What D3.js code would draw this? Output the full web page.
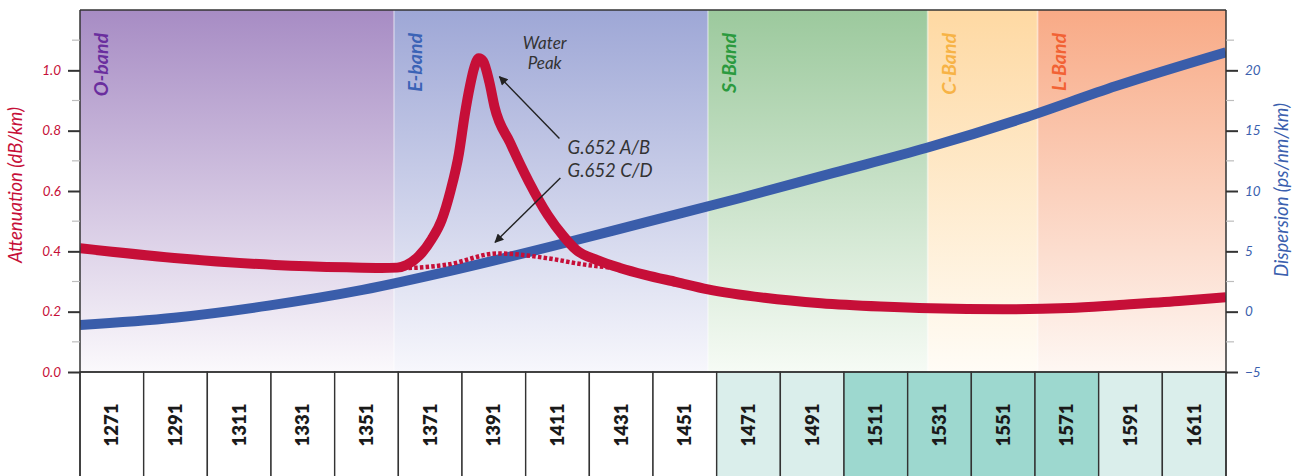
<!DOCTYPE html>
<html>
<head>
<meta charset="utf-8">
<script src="https://cdn.jsdelivr.net/npm/d3@7"></script>
<style>
  html, body { margin: 0; padding: 0; background: #ffffff; }
  svg { display: block; font-family: Lato, "Open Sans", sans-serif; }
</style>
</head>
<body>
<svg id="chart" width="1303" height="476"></svg>
<script>
// ---------------- DATA ----------------
const channels = [1271, 1291, 1311, 1331, 1351, 1371, 1391, 1411, 1431, 1451,
                  1471, 1491, 1511, 1531, 1551, 1571, 1591, 1611];
const coreChannels = [1511, 1531, 1551, 1571];
const extendedChannels = [1471, 1491, 1591, 1611];

const bandNames  = ["O-band", "E-band", "S-Band", "C-Band", "L-Band"];
const bandStarts = [1260, 1360, 1460, 1530, 1565];
const bandEnds   = [1360, 1460, 1530, 1565, 1625];

// Attenuation G.652 A/B (dB/km), with water peak
const attWl = [1260, 1290, 1322, 1345, 1356, 1361, 1364, 1368, 1372, 1375.2, 1378, 1380.7,
               1382.5, 1384.2, 1385.6, 1387, 1388.4, 1390.4, 1392, 1397, 1403, 1409,
               1414, 1418, 1425, 1432, 1440, 1450, 1460, 1478, 1496, 1515, 1531, 1554,
               1575, 1591, 1610, 1625];
const attAB = [0.41, 0.378, 0.355, 0.347, 0.345, 0.346, 0.355, 0.385, 0.44, 0.504, 0.6, 0.725,
               0.85, 0.948, 1.01, 1.04, 1.03, 0.96, 0.88, 0.76, 0.63, 0.52,
               0.45, 0.405, 0.37, 0.345, 0.322, 0.298, 0.274, 0.246, 0.228, 0.217, 0.211, 0.208,
               0.212, 0.222, 0.235, 0.248];

// Attenuation G.652 C/D (low water peak), dotted part
const cdWl = [1361, 1364, 1377, 1393, 1409, 1420, 1430];
const attCD = [0.345, 0.345, 0.356, 0.393, 0.377, 0.357, 0.345];

// Dispersion (ps/nm/km)
const dispWl = [1260, 1290, 1320, 1350, 1380, 1410, 1440, 1470, 1500, 1530, 1560, 1590, 1625];
const dispersion = [-1.1, -0.5, 0.5, 1.8, 3.5, 5.4, 7.4, 9.4, 11.5, 13.6, 16.0, 18.7, 21.5];

const leftTicks  = [0.0, 0.2, 0.4, 0.6, 0.8, 1.0];
const rightTicks = [-5, 0, 5, 10, 15, 20];

// Annotations (data units: wavelength, attenuation)
const waterPeakLabels = [{ text: "Water", wl: 1408, att: 1.07 }, { text: "Peak", wl: 1408, att: 1.005 }];
const fiberLabels = [{ text: "G.652 A/B", wl: 1415.3, att: 0.724 }, { text: "G.652 C/D", wl: 1415.3, att: 0.647 }];
const arrowAB = { from: [1412.7, 0.774], to: [1393.6, 0.979] };
const arrowCD = { from: [1413.0, 0.643], to: [1392.2, 0.43] };

// ---------------- LAYOUT ----------------
const svg = d3.select("#chart");
const L = 80, R = 1226, T = 10, B = 372, BOTTOM = 476;

const x  = d3.scaleLinear().domain([1260, 1625]).range([L, R]);
const yL = d3.scaleLinear().domain([0, 1.2]).range([B, T]);
const yR = d3.scaleLinear().domain([-5, 25]).range([B, T]);
const xc = d3.scaleBand().domain(channels).range([L, R]);

const bandTop    = ["#a78cc4", "#9ea7d6", "#9cc99d", "#fed9a3", "#f8aa86"];
const bandBottom = ["#fbf9fc", "#f7f7fc", "#f6fbf5", "#fffcf6", "#fef7f3"];
const bandText   = ["#6a2e9e", "#3b63b6", "#2b9a3e", "#f7b346", "#f26234"];

const defs = svg.append("defs");
bandNames.forEach((n, i) => {
  const g = defs.append("linearGradient").attr("id", "bg" + i)
    .attr("x1", 0).attr("y1", 0).attr("x2", 0).attr("y2", 1);
  g.append("stop").attr("offset", "0%").attr("stop-color", bandTop[i]);
  g.append("stop").attr("offset", "100%").attr("stop-color", bandBottom[i]);
});
defs.append("clipPath").attr("id", "plotclip")
  .append("rect").attr("x", L).attr("y", T).attr("width", R - L).attr("height", B - T);
const marker = defs.append("marker").attr("id", "arrowhead")
  .attr("viewBox", "0 0 10 10").attr("refX", 9).attr("refY", 5)
  .attr("markerWidth", 13).attr("markerHeight", 9).attr("markerUnits", "userSpaceOnUse")
  .attr("orient", "auto");
marker.append("path").attr("d", "M0,0 L10,5 L0,10 z").attr("fill", "#222");

// band backgrounds
const bands = bandNames.map((n, i) => ({ name: n, s: bandStarts[i], e: bandEnds[i], i }));
svg.append("g").selectAll("rect").data(bands).join("rect")
  .attr("x", d => x(d.s)).attr("y", T)
  .attr("width", d => x(d.e) - x(d.s)).attr("height", B - T)
  .attr("fill", d => `url(#bg${d.i})`);
// light separators between bands
svg.append("g").selectAll("line").data(bandStarts.slice(1)).join("line")
  .attr("x1", d => x(d)).attr("x2", d => x(d)).attr("y1", T).attr("y2", B)
  .attr("stroke", "#ffffff").attr("stroke-opacity", 0.35).attr("stroke-width", 2);

// band labels
svg.append("g").selectAll("text").data(bands).join("text")
  .attr("transform", d => `translate(${x(d.s) + 28},${T + 23}) rotate(-90)`)
  .attr("text-anchor", "end")
  .attr("font-size", 19.5).attr("font-weight", 700).attr("font-style", "italic")
  .attr("fill", d => bandText[d.i])
  .text(d => d.name);

// channel boxes
const boxes = svg.append("g");
boxes.selectAll("rect").data(channels).join("rect")
  .attr("x", d => xc(d)).attr("y", B)
  .attr("width", xc.bandwidth()).attr("height", BOTTOM - B + 5)
  .attr("fill", d => coreChannels.includes(d) ? "#9dd8cf" : (extendedChannels.includes(d) ? "#daeeeb" : "#ffffff"))
  .attr("stroke", "#333").attr("stroke-width", 1.4);
boxes.selectAll("text").data(channels).join("text")
  .attr("transform", d => `translate(${xc(d) + xc.bandwidth() / 2 + 6.5},${B + 53}) rotate(-90)`)
  .attr("text-anchor", "middle")
  .attr("font-size", 18.5).attr("font-weight", 800).attr("fill", "#1a1a1a")
  .text(d => d);

// curves
const plot = svg.append("g").attr("clip-path", "url(#plotclip)");
const lineAtt = d3.line().x(d => x(d[0])).y(d => yL(d[1])).curve(d3.curveMonotoneX);
const lineDisp = d3.line().x(d => x(d[0])).y(d => yR(d[1])).curve(d3.curveMonotoneX);

plot.append("path").datum(dispWl.map((w, i) => [w, dispersion[i]]))
  .attr("d", lineDisp).attr("fill", "none").attr("stroke", "#3a5daa").attr("stroke-width", 10);

plot.append("path").datum(cdWl.map((w, i) => [w, attCD[i]]))
  .attr("d", lineAtt).attr("fill", "none").attr("stroke", "#c60f38")
  .attr("stroke-width", 4.5).attr("stroke-dasharray", "3.5,2.2");

plot.append("path").datum(attWl.map((w, i) => [w, attAB[i]]))
  .attr("d", lineAtt).attr("fill", "none").attr("stroke", "#c60f38").attr("stroke-width", 10)
  .attr("stroke-linejoin", "round");

// annotations
const ann = svg.append("g").attr("font-style", "italic").attr("fill", "#333");
ann.selectAll("text.wp").data(waterPeakLabels).join("text").attr("class", "wp")
  .attr("x", d => x(d.wl)).attr("y", d => yL(d.att))
  .attr("text-anchor", "middle").attr("font-size", 17).text(d => d.text);
ann.selectAll("text.fl").data(fiberLabels).join("text").attr("class", "fl")
  .attr("x", d => x(d.wl)).attr("y", d => yL(d.att)).attr("font-size", 18.5).text(d => d.text);
[arrowAB, arrowCD].forEach(a => {
  svg.append("line")
    .attr("x1", x(a.from[0])).attr("y1", yL(a.from[1]))
    .attr("x2", x(a.to[0])).attr("y2", yL(a.to[1]))
    .attr("stroke", "#222").attr("stroke-width", 1.4).attr("marker-end", "url(#arrowhead)");
});

// frame
svg.append("line").attr("x1", L).attr("x2", R).attr("y1", T).attr("y2", T).attr("stroke", "#333").attr("stroke-width", 1.5);
svg.append("line").attr("x1", L).attr("x2", L).attr("y1", T).attr("y2", BOTTOM).attr("stroke", "#333").attr("stroke-width", 1.5);
svg.append("line").attr("x1", R).attr("x2", R).attr("y1", T).attr("y2", BOTTOM).attr("stroke", "#333").attr("stroke-width", 1.5);
svg.append("line").attr("x1", L).attr("x2", R).attr("y1", B).attr("y2", B).attr("stroke", "#333").attr("stroke-width", 1.5);

// left axis
const minorL = d3.range(1, 12, 2).map(v => v / 10);
svg.append("g").selectAll("line").data(minorL).join("line")
  .attr("x1", L - 8).attr("x2", L).attr("y1", d => yL(d)).attr("y2", d => yL(d))
  .attr("stroke", "#bdbdbd").attr("stroke-width", 1.2);
const axL = svg.append("g").attr("transform", `translate(${L},0)`)
  .call(d3.axisLeft(yL).tickValues(leftTicks).tickFormat(d3.format(".1f")).tickSize(12).tickPadding(7));
axL.select(".domain").remove();
axL.selectAll(".tick line").attr("stroke", "#333").attr("stroke-width", 2);
axL.selectAll(".tick text").attr("fill", "#c60f38").attr("font-size", 13.5).attr("font-style", "italic")
  .attr("font-family", "Lato, sans-serif");

// right axis
const minorR = d3.range(-2.5, 25, 5);
svg.append("g").selectAll("line").data(minorR).join("line")
  .attr("x1", R).attr("x2", R + 8).attr("y1", d => yR(d)).attr("y2", d => yR(d))
  .attr("stroke", "#bdbdbd").attr("stroke-width", 1.2);
const axR = svg.append("g").attr("transform", `translate(${R},0)`)
  .call(d3.axisRight(yR).tickValues(rightTicks).tickSize(12).tickPadding(7));
axR.select(".domain").remove();
axR.selectAll(".tick line").attr("stroke", "#333").attr("stroke-width", 2);
axR.selectAll(".tick text").attr("fill", "#3b5fae").attr("font-size", 13.5).attr("font-style", "italic")
  .attr("font-family", "Lato, sans-serif");

// axis titles
svg.append("text").attr("transform", `translate(22,${(T + B) / 2 - 6}) rotate(-90)`)
  .attr("text-anchor", "middle").attr("font-size", 18.5).attr("font-style", "italic")
  .attr("fill", "#c60f38").text("Attenuation (dB/km)");
svg.append("text").attr("transform", `translate(1288,${(T + B) / 2 - 1}) rotate(-90)`)
  .attr("text-anchor", "middle").attr("font-size", 18.5).attr("font-style", "italic")
  .attr("fill", "#3b5fae").text("Dispersion (ps/nm/km)");
</script>
</body>
</html>
